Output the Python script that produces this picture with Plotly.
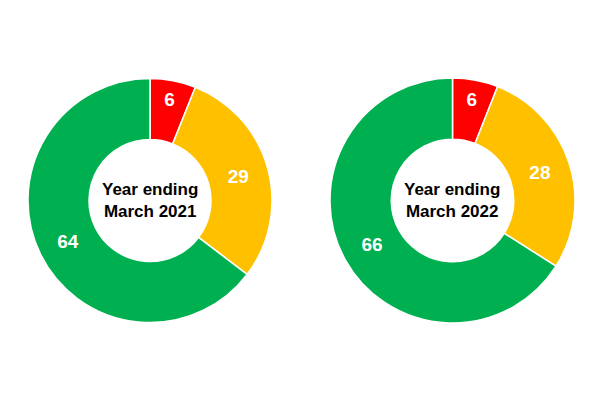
import plotly.graph_objects as go

categories = ["Red", "Amber", "Green"]
values_2021 = [6, 29, 64]
values_2022 = [6, 28, 66]
titles = ["Year ending<br>March 2021", "Year ending<br>March 2022"]
colors = ["#FF0000", "#FFC000", "#00B050"]

W, H = 600, 399
OFF = 8  # page body margin
domains = [
    dict(x=[(28 - OFF) / W, (272 - OFF) / W], y=[(H - 323 + OFF) / H, (H - 78 + OFF) / H]),
    dict(x=[(330 - OFF) / W, (575 - OFF) / W], y=[(H - 323 + OFF) / H, (H - 78 + OFF) / H]),
]

fig = go.Figure()
for vals, dom in zip([values_2021, values_2022], domains):
    fig.add_trace(go.Pie(
        labels=categories, values=vals, hole=0.5, sort=False,
        direction="clockwise", rotation=0, domain=dom,
        marker=dict(colors=colors, line=dict(color="white", width=1.5)),
        textinfo="value", textposition="inside",
        insidetextorientation="horizontal",
        textfont=dict(family="Liberation Sans, Arial", size=19, color="white", weight="bold"),
        showlegend=False, hoverinfo="label+value",
    ))

for t, dom in zip(titles, domains):
    fig.add_annotation(
        text="<b>" + t + "</b>", x=sum(dom["x"]) / 2, y=sum(dom["y"]) / 2,
        xref="paper", yref="paper", showarrow=False,
        font=dict(family="Liberation Sans, Arial", size=17, color="black"),
        align="center", xanchor="center", yanchor="middle",
    )

fig.update_layout(
    width=W, height=H, margin=dict(l=0, r=0, t=0, b=0),
    paper_bgcolor="white", plot_bgcolor="white",
)
fig.write_html("out.html")
